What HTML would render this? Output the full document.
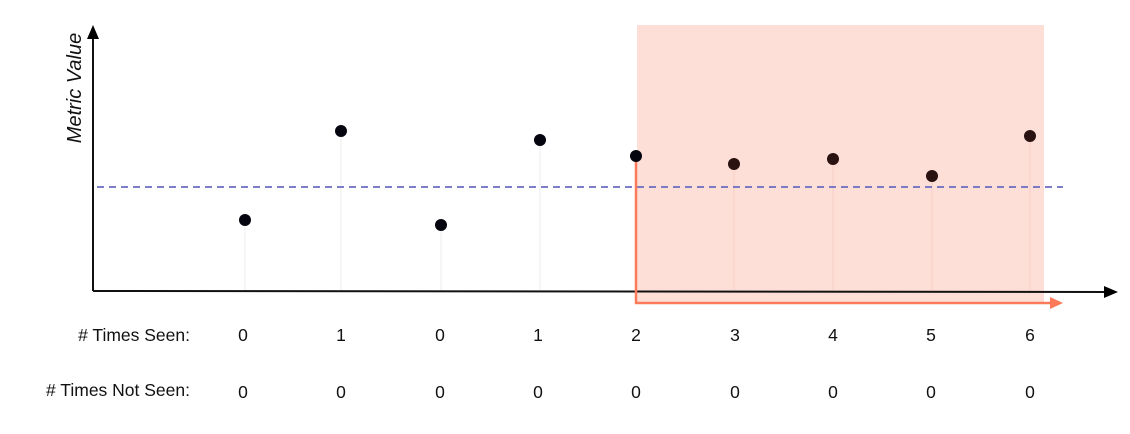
<!DOCTYPE html>
<html><head><style>body{margin:0;background:#fff}</style></head><body>
<svg width="1130" height="429" xmlns="http://www.w3.org/2000/svg" font-family="Liberation Sans, sans-serif">
<rect x="637" y="25" width="407" height="278" fill="#fddfd8"/>
<g stroke="#eee" stroke-width="1">
<line x1="245" y1="220" x2="245" y2="290"/><line x1="341" y1="131" x2="341" y2="290"/>
<line x1="441" y1="225" x2="441" y2="290"/><line x1="540" y1="140" x2="540" y2="290"/>
</g>
<g stroke="#f5cfc6" stroke-width="1">
<line x1="734" y1="164" x2="734" y2="290"/><line x1="833" y1="159" x2="833" y2="290"/>
<line x1="932" y1="176" x2="932" y2="290"/><line x1="1030" y1="136" x2="1030" y2="290"/>
</g>
<line x1="97" y1="187" x2="1063" y2="187" stroke="#6b6bc0" stroke-width="1.8" stroke-dasharray="7,5"/>
<line x1="93" y1="291" x2="1108" y2="292" stroke="#111" stroke-width="2"/>
<polygon points="1118,292 1104,286 1104,298" fill="#000"/>
<line x1="93" y1="291" x2="93" y2="36" stroke="#111" stroke-width="2"/>
<polygon points="93,25 87,39 99,39" fill="#000"/>
<polyline points="636,156 636,303 1052,303" fill="none" stroke="#fb7a59" stroke-width="2.5"/>
<polygon points="1063,303 1050,297 1050,309" fill="#fb7a59"/>
<g fill="#050510">
<circle cx="245" cy="220" r="6"/><circle cx="341" cy="131" r="6"/><circle cx="441" cy="225" r="6"/>
<circle cx="540" cy="140" r="6"/><circle cx="636" cy="156" r="6"/>
</g>
<g fill="#2a1210">
<circle cx="734" cy="164" r="6"/><circle cx="833" cy="159" r="6"/><circle cx="932" cy="176" r="6"/><circle cx="1030" cy="136" r="6"/>
</g>
<text transform="translate(81,88) rotate(-90)" text-anchor="middle" font-size="20" font-style="italic" fill="#111">Metric Value</text>
<g font-size="17.5" fill="#111">
<text x="190" y="341" text-anchor="end">#  Times Seen:</text>
<text x="190" y="396" text-anchor="end">#  Times Not Seen:</text>
<g text-anchor="middle">
<text x="243" y="341">0</text><text x="341" y="341">1</text><text x="440" y="341">0</text><text x="538" y="341">1</text><text x="636" y="341">2</text><text x="735" y="341">3</text><text x="833" y="341">4</text><text x="931" y="341">5</text><text x="1030" y="341">6</text>
<text x="243" y="398">0</text><text x="341" y="398">0</text><text x="440" y="398">0</text><text x="538" y="398">0</text><text x="636" y="398">0</text><text x="735" y="398">0</text><text x="833" y="398">0</text><text x="931" y="398">0</text><text x="1030" y="398">0</text>
</g></g>
</svg>
</body></html>
